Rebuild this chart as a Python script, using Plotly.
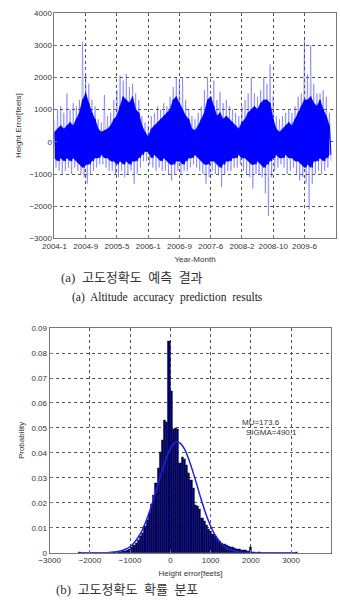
import plotly.graph_objects as go

# ---------------- Top chart: height error time series (read as envelopes) ----------------
month_labels = ["2004-1", "2004-9", "2005-5", "2006-1", "2006-9",
                "2007-6", "2008-2", "2008-10", "2009-6"]
# sample position in tick units (0.1 steps from 0.0 to 8.8)
n_pos = 89
pos = [round(i * 0.1, 2) for i in range(n_pos)]

core_hi = [300, 400, 500, 400, 500, 600, 500, 700, 900, 1300, 1500, 1200, 900, 700,
           400, 300, 350, 400, 500, 700, 800, 1100, 1400, 1300, 1200, 1400, 1000, 900,
           500, 300, 150, 400, 500, 600, 700, 800, 900, 1000, 1300, 1400, 1200, 1000,
           800, 700, 400, 350, 500, 700, 900, 1300, 1400, 1100, 800, 900, 700, 800,
           700, 600, 500, 400, 600, 700, 900, 1000, 1100, 1000, 1200, 1300, 1300, 1200,
           700, 400, 300, 400, 500, 600, 500, 700, 900, 1100, 1300, 1300, 1400, 1200,
           1100, 1300, 1000, 800, 500]
core_lo = [-500, -600, -500, -600, -500, -600, -500, -600, -700, -800, -700, -700, -600, -500,
           -500, -400, -500, -500, -600, -600, -700, -600, -700, -600, -700, -600, -600, -500,
           -400, -300, -300, -500, -400, -500, -600, -500, -600, -700, -700, -600, -600, -700,
           -600, -500, -500, -400, -500, -600, -700, -700, -600, -600, -700, -800, -700, -600,
           -600, -500, -500, -400, -500, -500, -600, -700, -700, -600, -700, -800, -700, -600,
           -500, -400, -500, -500, -400, -500, -500, -600, -600, -700, -800, -700, -800, -600,
           -600, -500, -600, -500, -400]
spike_hi = [700, 1000, 1100, 900, 1500, 1000, 1200, 1100, 1300, 3100, 2100, 1800, 1300, 1100,
            700, 600, 1450, 800, 900, 1300, 1600, 2050, 1900, 2100, 1700, 1800, 1500, 1300,
            800, 600, 500, 800, 900, 1100, 1000, 1200, 1100, 1400, 1700, 2000, 1900, 2000,
            1300, 1000, 800, 700, 900, 1100, 1600, 2000, 1400, 1900, 1300, 1550, 1200, 1300,
            1100, 1000, 900, 800, 1100, 1300, 1500, 2000, 1500, 1400, 1600, 2000, 1800, 2400,
            1400, 800, 700, 800, 900, 1000, 900, 1100, 1400, 1500, 3150, 2100, 3000, 1800,
            1500, 1500, 1600, 1400, 900]
spike_lo = [-800, -900, -1000, -900, -800, -1000, -800, -900, -1000, -1100, -1300, -1000, -900, -800,
            -700, -700, -800, -900, -900, -1000, -1100, -900, -1100, -1000, -900, -1300, -1000, -800,
            -600, -600, -700, -800, -900, -800, -900, -900, -1000, -1200, -1000, -900, -1000, -900,
            -900, -800, -700, -800, -900, -1000, -1300, -1100, -900, -1000, -1000, -1400, -1000, -900,
            -900, -800, -800, -700, -900, -1000, -1100, -1450, -1000, -1000, -1100, -1600, -2300, -1100,
            -900, -800, -700, -800, -1000, -900, -800, -1000, -1200, -1100, -1300, -2100, -1300, -1000,
            -900, -1000, -900, -800, -600]

# ---------------- Bottom chart: histogram of height error ----------------
hist_start = -2290.0
hist_width = 54.5
hist_heights = [
    0.0002, 0, 0, 0, 0, 0, 0, 0, 0, 0,
    0, 0, 0, 0, 0, 0, 0.0002, 0, 0.0002, 0.0004,
    0.0006, 0.0008, 0.0012, 0.0016, 0.0022, 0.003, 0.004, 0.005, 0.0065, 0.008,
    0.0105, 0.013, 0.016, 0.0195, 0.023, 0.028, 0.034, 0.0405, 0.045, 0.053,
    0.0525, 0.0847, 0.0646, 0.0497, 0.050, 0.0495, 0.036, 0.0385, 0.0375, 0.035,
    0.032, 0.029, 0.026, 0.019, 0.0185, 0.0175, 0.014, 0.0125, 0.011, 0.0095,
    0.0085, 0.0075, 0.0065, 0.0055, 0.0047, 0.004, 0.0034, 0.003, 0.0027, 0.0024,
    0.0022, 0.002, 0.0016, 0.0014, 0.0012, 0.0012, 0.001, 0.0008, 0.0024, 0.0004,
    0.0002, 0, 0.0002, 0, 0, 0, 0, 0, 0, 0,
    0, 0, 0, 0, 0, 0, 0, 0, 0, 0.0002]
hist_centers = [hist_start + hist_width * (i + 0.5) for i in range(len(hist_heights))]

# fitted normal curve
fit_x = [-2300, -1800, -1500, -1300, -1100, -1000, -900, -800, -700, -600, -500, -400,
         -300, -200, -100, 0, 100, 174, 250, 350, 450, 550, 650, 750, 850, 950, 1050,
         1150, 1250, 1400, 1550, 1700, 2000, 2500, 3130]
fit_y = [0.0, 0.00001, 0.00013, 0.00048, 0.0015, 0.0025, 0.004, 0.0062, 0.009, 0.0128,
         0.0173, 0.0224, 0.0278, 0.0332, 0.038, 0.0417, 0.0439, 0.0444, 0.0438, 0.0416,
         0.0378, 0.033, 0.0277, 0.0222, 0.0171, 0.0126, 0.009, 0.0061, 0.004, 0.0019,
         0.0009, 0.00035, 0.00004, 0.0, 0.0]

mu_text = "MU=173.6"
sigma_text = "SIGMA=490.1"

# ---------------- Build traces ----------------
spk_x, spk_y = [], []
core_x, core_y = [], []
for i in range(n_pos):
    spk_x += [pos[i], pos[i] + 0.05]
    spk_y += [spike_hi[i], spike_lo[i]]
    core_x += [pos[i], pos[i] + 0.05]
    core_y += [core_hi[i], core_lo[i]]

BLUE = "#0000ff"
fig = go.Figure()
fig.add_trace(go.Scatter(x=spk_x, y=spk_y, mode="lines",
                         line=dict(color="rgba(60,60,255,0.5)", width=0.8),
                         xaxis="x", yaxis="y", hoverinfo="skip"))
fig.add_trace(go.Scatter(x=pos, y=core_lo, mode="lines",
                         line=dict(color=BLUE, width=0.6),
                         xaxis="x", yaxis="y"))
fig.add_trace(go.Scatter(x=pos, y=core_hi, mode="lines", fill="tonexty",
                         fillcolor=BLUE, line=dict(color=BLUE, width=0.6),
                         xaxis="x", yaxis="y"))
fig.add_trace(go.Scatter(x=core_x, y=core_y, mode="lines",
                         line=dict(color=BLUE, width=1),
                         xaxis="x", yaxis="y"))

fig.add_trace(go.Bar(x=hist_centers, y=hist_heights, width=hist_width,
                     marker=dict(color="#000070", line=dict(color="#000020", width=0.4)),
                     xaxis="x2", yaxis="y2"))
fig.add_trace(go.Scatter(x=fit_x, y=fit_y, mode="lines",
                         line=dict(color="#2020e0", width=1.5, shape="spline"),
                         xaxis="x2", yaxis="y2"))

TICKFONT = dict(family="Liberation Sans, Arial, sans-serif", size=8, color="#333333")
axis_common = dict(showgrid=True, gridcolor="#555555", griddash="dot", gridwidth=1,
                   showline=True, linecolor="#777777", linewidth=1, mirror=True,
                   ticks="inside", ticklen=3, tickcolor="#777777",
                   tickfont=TICKFONT, zeroline=False)

fig.update_layout(
    width=340, height=607,
    margin=dict(l=0, r=0, t=0, b=0),
    paper_bgcolor="white", plot_bgcolor="white",
    showlegend=False, bargap=0,
    xaxis=dict(domain=[44 / 340, 335.5 / 340], range=[0, 9],
               tickvals=list(range(len(month_labels))), ticktext=month_labels,
               title=dict(text="Year-Month", font=TICKFONT, standoff=6),
               anchor="y", **axis_common),
    yaxis=dict(domain=[1 - 238 / 607, 1 - 9 / 607], range=[-3000, 4000],
               tickvals=[-3000, -2000, -1000, 0, 1000, 2000, 3000, 4000],
               title=dict(text="Height Error[feets]", font=TICKFONT, standoff=6),
               anchor="x", **axis_common),
    xaxis2=dict(domain=[39 / 340, 331 / 340], range=[-3000, 4000],
                tickvals=[-3000, -2000, -1000, 0, 1000, 2000, 3000, 4000],
                title=dict(text="Height error[feets]", font=TICKFONT, standoff=6),
                anchor="y2", **axis_common),
    yaxis2=dict(domain=[1 - 557 / 607, 1 - 329 / 607], range=[0, 0.09],
                tickvals=[0, 0.01, 0.02, 0.03, 0.04, 0.05, 0.06, 0.07, 0.08, 0.09],
                ticktext=["0", "0.01", "0.02", "0.03", "0.04", "0.05", "0.06", "0.07", "0.08", "0.09"],
                title=dict(text="Probability", font=TICKFONT, standoff=5),
                anchor="x2", **axis_common),
)

fig.add_annotation(x=1740, y=0.0521, xref="x2", yref="y2", text=mu_text,
                   showarrow=False, xanchor="left", yanchor="middle",
                   font=dict(family="Liberation Sans, Arial, sans-serif", size=8, color="#333333"))
fig.add_annotation(x=1840, y=0.0482, xref="x2", yref="y2", text=sigma_text,
                   showarrow=False, xanchor="left", yanchor="middle",
                   font=dict(family="Liberation Sans, Arial, sans-serif", size=8, color="#333333"))

CAP_FONT = dict(family="Liberation Serif, Noto Sans CJK KR, serif", size=11.5, color="#222222")
KOR_FONT = dict(family="Liberation Serif, Noto Sans CJK KR, serif", size=13, color="#333333")
fig.add_annotation(x=49 / 340, y=1 - 278 / 607, xref="paper", yref="paper",
                   text="(a)  고도정확도  예측  결과", showarrow=False,
                   xanchor="left", yanchor="middle", font=KOR_FONT)
fig.add_annotation(x=60 / 340, y=1 - 298 / 607, xref="paper", yref="paper",
                   text="(a)  Altitude  accuracy  prediction  results", showarrow=False,
                   xanchor="left", yanchor="middle", font=CAP_FONT)
fig.add_annotation(x=44 / 340, y=1 - 594 / 607, xref="paper", yref="paper",
                   text="(b)  고도정확도  확률  분포", showarrow=False,
                   xanchor="left", yanchor="middle", font=KOR_FONT)

fig.write_html("out.html")
